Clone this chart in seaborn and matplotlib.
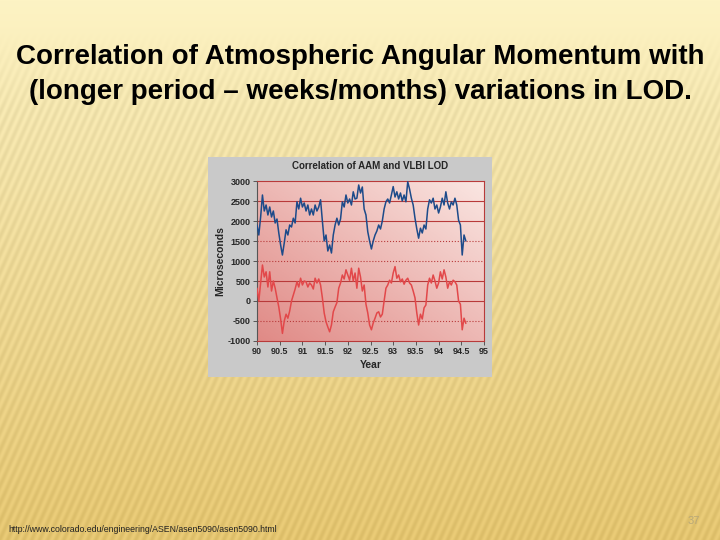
import numpy as np
import pandas as pd
import seaborn as sns
import matplotlib.pyplot as plt

# values, one point every 0.04 year starting at 90.0
aam = [1900, 1650, 2100, 2650, 2250,
       2400, 2150, 2350, 2100, 2250,
       1950, 2050, 1700, 1400, 1150,
       1450, 1780, 1650, 1900, 1850,
       2070, 1950, 2480, 2300, 2570,
       2350, 2450, 2250, 2400, 2150,
       2300, 2150, 2400, 2250, 2350,
       2530, 2000, 1500, 1650, 1250,
       1400, 1200, 1650, 1900, 2070,
       1900, 2050, 2480, 2350, 2650,
       2450, 2550, 2400, 2730, 2550,
       2570, 2900, 2700, 2850, 2300,
       2150, 1730, 1500, 1300, 1500,
       1650, 1750, 1900, 1800, 2000,
       2300, 2480, 2550, 2450, 2650,
       2860, 2600, 2730, 2550, 2700,
       2500, 2650, 2480, 2980, 2800,
       2570, 2400, 2070, 1800, 1570,
       1820, 1700, 1900, 1800, 2300,
       2530, 2450, 2570, 2300, 2400,
       2200, 2350, 2570, 2400, 2730,
       2450, 2300, 2480, 2400, 2570,
       2400, 2020, 1900, 1150, 1650,
       1500]
lod = [320, 0, 450, 900, 600,
       730, 350, 730, 250, 500,
       320, 80, -150, -450, -810,
       -500, -330, -430, -250, 0,
       150, 300, 480, 350, 570,
       400, 500, 480, 350, 450,
       400, 300, 570, 450, 550,
       400, 80, -300, -520, -650,
       -770, -600, -270, -150, -40,
       320, 450, 650, 550, 780,
       650, 520, 820, 500, 700,
       320, 820, 600, 250, 400,
       -80, -300, -600, -720, -550,
       -430, -300, -270, -400, -330,
       0, 320, 400, 520, 450,
       700, 860, 570, 650, 480,
       550, 420, 520, 570, 450,
       400, 250, 80, -300, -600,
       -330, -450, -170, -100, 400,
       570, 450, 650, 500, 320,
       450, 730, 550, 780, 600,
       320, 480, 400, 520, 480,
       400, 0, -80, -720, -430,
       -560]
years = 90 + 0.04 * np.arange(len(aam))

xticks = [90, 90.5, 91, 91.5, 92, 92.5, 93, 93.5, 94, 94.5, 95]
xlabels = ["90", "90.5", "91", "91.5", "92", "92.5", "93", "93.5", "94", "94.5", "95"]
yticks = [-1000, -500, 0, 500, 1000, 1500, 2000, 2500, 3000]

df = pd.DataFrame({"Year": years, "AAM": aam, "LOD": lod})

sns.set_style("white")
plt.rcParams['font.family'] = ['Liberation Sans', 'DejaVu Sans']

fig = plt.figure(figsize=(7.2, 5.4), dpi=100)

# slide background: yellow gradient with slanted stripes
H, W = 540, 720
yy, xx = np.mgrid[0:H, 0:W]
t = yy / H
top = np.array([253, 243, 196]) / 255
bot = np.array([234, 203, 118]) / 255
base = top[None, None, :] * (1 - t[..., None]) + bot[None, None, :] * t[..., None]
s = xx + 0.45 * yy
stripe = 0.5 + 0.5 * np.sin(2 * np.pi * s / 8.0)
amp = np.clip((yy - 30) / 80, 0, 1) * 0.055
bg = np.clip(base - amp[..., None] * stripe[..., None], 0, 1)
axbg = fig.add_axes([0, 0, 1, 1])
axbg.imshow(bg, aspect='auto', extent=[0, 1, 0, 1])
axbg.axis('off')

fig.text(0.5, 1 - 57 / 540, "Correlation of Atmospheric Angular Momentum with",
         ha='center', va='center', fontsize=20, fontweight='bold', color='black')
fig.text(0.5, 1 - 92 / 540, "(longer period \u2013 weeks/months) variations in LOD.",
         ha='center', va='center', fontsize=20, fontweight='bold', color='black')
fig.text(8 / 720, 1 - 530 / 540, "http://www.colorado.edu/engineering/ASEN/asen5090/asen5090.html",
         ha='left', va='center', fontsize=6.3, color='#222222')
fig.text(694 / 720, 1 - 521 / 540, "37", ha='center', va='center', fontsize=8, color='#b8a878')

# gray panel of the embedded picture
panel = fig.add_axes([208 / 720, 1 - 377 / 540, 284 / 720, 220 / 540])
panel.set_facecolor('#c9c9c9')
panel.set_xticks([])
panel.set_yticks([])
for sp in panel.spines.values():
    sp.set_visible(False)

ax = fig.add_axes([257 / 720, 1 - 341 / 540, 227 / 720, 160 / 540])
# pink gradient of the plot area
gy, gx = np.mgrid[0:100, 0:100] / 99.0
g = np.clip((gx + (1 - gy)) / 2, 0, 1)
lo = np.array([224, 138, 134]) / 255
hi = np.array([250, 230, 226]) / 255
pink = lo[None, None, :] * (1 - g[..., None]) + hi[None, None, :] * g[..., None]
ax.imshow(pink, aspect='auto', extent=[90, 95, -1000, 3000], zorder=0)

for v in yticks[1:-1]:
    ls = ':' if v in (1500, 1000, -500) else '-'
    ax.axhline(v, color='#b83a3a', lw=0.8, ls=ls, zorder=1)

sns.lineplot(data=df, x="Year", y="AAM", ax=ax, color='#1d4b8a', lw=1.1, zorder=3)
sns.lineplot(data=df, x="Year", y="LOD", ax=ax, color='#e2484a', lw=1.1, zorder=3)

ax.set_xlim(90, 95)
ax.set_ylim(-1000, 3000)
ax.set_xticks(xticks)
ax.set_xticklabels(xlabels, fontsize=6.5, fontweight='bold')
ax.set_xticks(np.arange(90, 95.01, 0.1), minor=True)
ax.set_yticks(yticks)
ax.set_yticklabels([str(v) for v in yticks], fontsize=6.5, fontweight='bold')
ax.tick_params(axis='both', which='major', length=3, width=0.6, color='#444444', pad=1.5, direction='out')
ax.tick_params(axis='x', which='minor', length=1.5, width=0.5, color='#444444', direction='out')
ax.tick_params(left=True, bottom=True)
for name, sp in ax.spines.items():
    sp.set_color('#b83a3a')
    sp.set_linewidth(0.8)
ax.spines['left'].set_color('#555555')

ax.set_xlabel("Year", fontsize=7.5, fontweight='bold', labelpad=3)
ax.set_ylabel("Microseconds", fontsize=7.5, fontweight='bold', labelpad=2)
ax.set_title("Correlation of AAM and VLBI LOD", fontsize=7, fontweight='bold', pad=9)

fig.savefig("out.png", dpi=100)
